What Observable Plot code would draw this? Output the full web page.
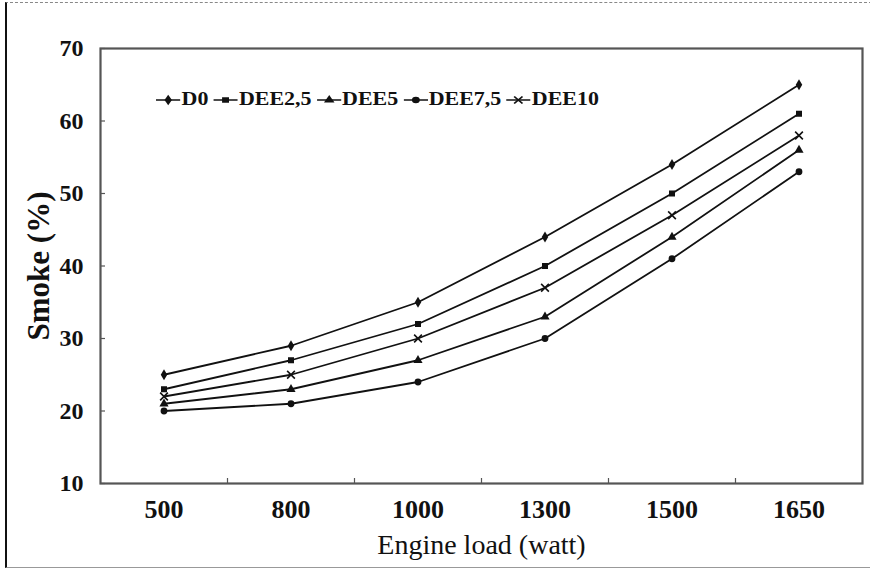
<!DOCTYPE html>
<html>
<head>
<meta charset="utf-8">
<script src="https://cdn.jsdelivr.net/npm/d3@7"></script>
<script src="https://cdn.jsdelivr.net/npm/@observablehq/plot@0.6"></script>
<style>
  body { margin: 0; background: #fff; }
  #wrap { position: relative; width: 870px; height: 570px; overflow: hidden; background: #fff; }
  #edge { position: absolute; left: 5px; top: 2px; width: 870px; height: 564px;
          border-left: 2px solid #111; border-top: 1px dashed #888; border-bottom: 1px solid #999; }
  #legend { position: absolute; left: 156px; top: 89px; display: flex; align-items: center;
            font-family: 'Liberation Serif', 'Times New Roman', serif; font-weight: bold; font-size: 18px;
            color: #111; transform: scaleX(1.22); transform-origin: left center; white-space: nowrap; }
  #legend .item { display: flex; align-items: center; margin-right: 4px; }
  #legend svg { display: block; margin-right: 1px; }
</style>
</head>
<body>
<div id="wrap"><div id="edge"></div></div>
<script>
// ---- data ----
const loads = ["500", "800", "1000", "1300", "1500", "1650"];
const seriesNames = ["D0", "DEE2,5", "DEE5", "DEE7,5", "DEE10"];
const D0     = [25, 29, 35, 44, 54, 65];
const DEE2_5 = [23, 27, 32, 40, 50, 61];
const DEE5   = [21, 23, 27, 33, 44, 56];
const DEE7_5 = [20, 21, 24, 30, 41, 53];
const DEE10  = [22, 25, 30, 37, 47, 58];
const yTicks = [10, 20, 30, 40, 50, 60, 70];
const xTitle = "Engine load (watt)";
const yTitle = "Smoke (%)";

const seriesValues = [D0, DEE2_5, DEE5, DEE7_5, DEE10];
const symbols = ["diamond", "square", "triangle", "circle", "times"];
const data = [];
seriesNames.forEach((s, i) => loads.forEach((l, j) => data.push({series: s, load: l, value: seriesValues[i][j]})));

const W = 870, H = 570, mL = 100, mR = 8, mT = 48, mB = 87;
const bw = (W - mL - mR) / loads.length;
const serif = "'Liberation Serif', 'Times New Roman', serif";

const chart = Plot.plot({
  width: W, height: H,
  marginLeft: mL, marginRight: mR, marginTop: mT, marginBottom: mB,
  style: {fontFamily: serif, background: "transparent", color: "#111"},
  x: {type: "band", domain: loads, padding: 0, label: null},
  y: {domain: [10, 70], label: null},
  symbol: {domain: seriesNames, range: symbols},
  marks: [
    Plot.frame({stroke: "#555", strokeWidth: 2.2}),
    Plot.axisY(yTicks, {tickSize: 0, tickPadding: 17, fontSize: 24, fontWeight: "bold", label: null}),
    Plot.axisY(yTicks, {text: null, tickSize: 5, dx: 5, label: null, stroke: "#555", strokeWidth: 1.2}),
    Plot.axisX({tickSize: 0, tickPadding: 16, fontSize: 26, fontWeight: "bold", label: null}),
    Plot.axisX(loads.slice(0, -1), {text: null, tickSize: 5, dy: -5, dx: bw / 2, label: null, stroke: "#555", strokeWidth: 1.2}),
    Plot.line(data, {x: "load", y: "value", z: "series", stroke: "#111", strokeWidth: 1.8}),
    Plot.dot(data.filter(d => d.series !== "DEE10"), {x: "load", y: "value", symbol: "series", fill: "#111", r: 3.4}),
    Plot.dot(data.filter(d => d.series === "DEE10"), {x: "load", y: "value", symbol: "series", stroke: "#111", strokeWidth: 1.6, r: 3.6}),
    Plot.text([yTitle], {frameAnchor: "left", textAnchor: "middle", lineAnchor: "middle", dx: -61, rotate: -90, fontSize: 31, fontWeight: "bold", fill: "#111"}),
    Plot.text([xTitle], {frameAnchor: "bottom", dy: 70, fontSize: 28, fill: "#111"})
  ]
});
const wrap = document.getElementById("wrap");
chart.style.position = "absolute";
chart.style.left = "0px";
chart.style.top = "0px";
wrap.appendChild(chart);

// ---- legend (inside plot area, top-left) ----
const legend = document.createElement("div");
legend.id = "legend";
const symMap = {diamond: d3.symbolDiamond, square: d3.symbolSquare, triangle: d3.symbolTriangle, circle: d3.symbolCircle, times: d3.symbolTimes};
seriesNames.forEach((s, i) => {
  const item = document.createElement("div");
  item.className = "item";
  const svg = d3.create("svg").attr("width", 20).attr("height", 16);
  svg.append("line").attr("x1", 0).attr("x2", 20).attr("y1", 8).attr("y2", 8).attr("stroke", "#111").attr("stroke-width", 1.7);
  const r = 3.2;
  const p = svg.append("path").attr("transform", "translate(10,8)")
    .attr("d", d3.symbol(symMap[symbols[i]], r * r * Math.PI)());
  if (symbols[i] === "times") p.attr("fill", "none").attr("stroke", "#111").attr("stroke-width", 1.5);
  else p.attr("fill", "#111");
  item.appendChild(svg.node());
  const t = document.createElement("span");
  t.textContent = s;
  item.appendChild(t);
  legend.appendChild(item);
});
wrap.appendChild(legend);
</script>
</body>
</html>
